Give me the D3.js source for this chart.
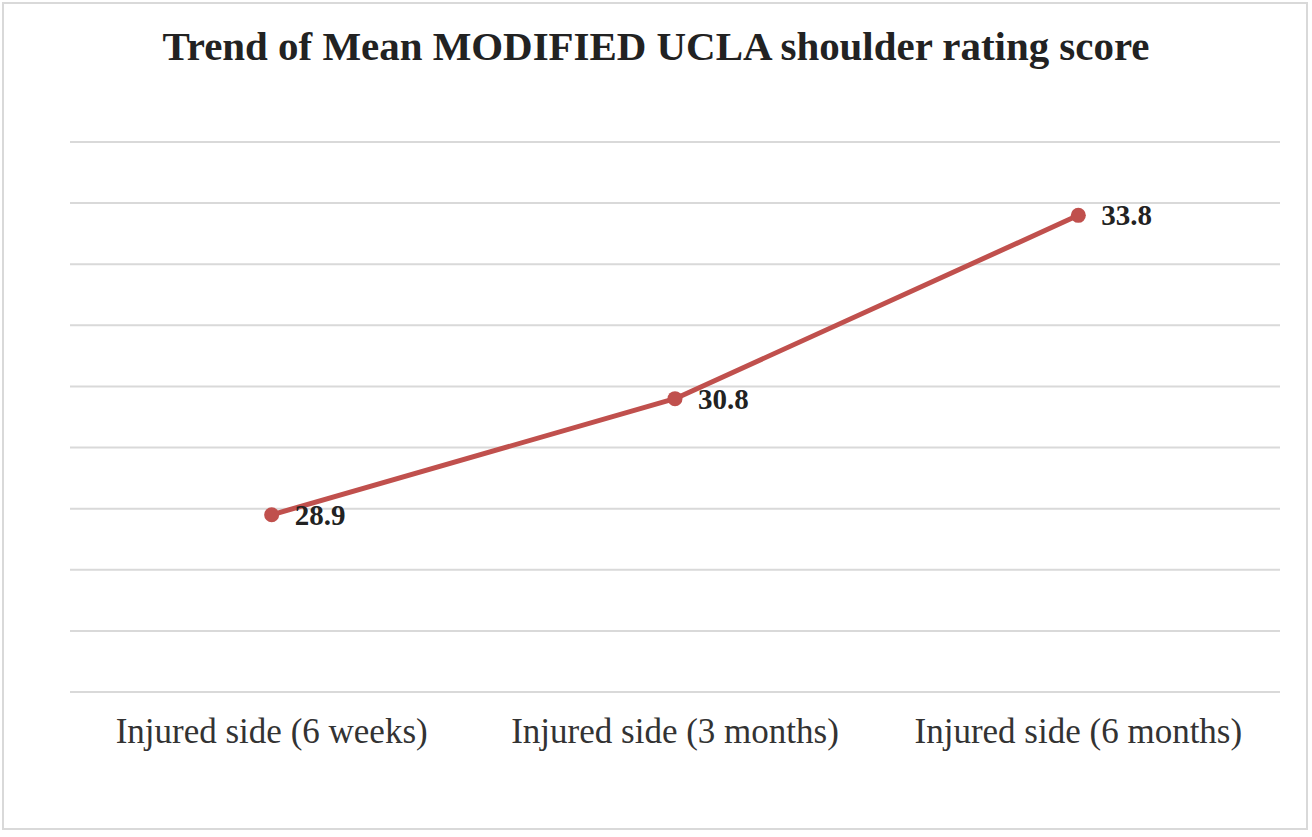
<!DOCTYPE html>
<html>
<head>
<meta charset="utf-8">
<script src="https://cdn.jsdelivr.net/npm/d3@7"></script>
<style>
  body { margin: 0; background: #fff; }
  svg { display: block; }
</style>
</head>
<body>
<script>
const categories = ['Injured side (6 weeks)', 'Injured side (3 months)', 'Injured side (6 months)']
const scores = [28.9, 30.8, 33.8]
const yTicks = [26, 27, 28, 29, 30, 31, 32, 33, 34, 35]
const title = 'Trend of Mean MODIFIED UCLA shoulder rating score'

const width = 1312
const height = 837
const svg = d3.select('body').append('svg')
    .attr('width', width)
    .attr('height', height)

// outer frame
svg.append('rect')
    .attr('x', 3).attr('y', 3)
    .attr('width', 1304).attr('height', 826)
    .attr('fill', '#fff')
    .attr('stroke', '#d9d9d9')
    .attr('stroke-width', 2)

svg.append('text')
    .attr('x', 656)
    .attr('y', 60)
    .attr('text-anchor', 'middle')
    .attr('font-family', 'Liberation Serif, Times New Roman, serif')
    .attr('font-weight', 'bold')
    .attr('font-size', 40)
    .attr('fill', '#222')
    .attr('textLength', 987)
    .attr('lengthAdjust', 'spacingAndGlyphs')
    .text(title)

const x = d3.scaleBand().domain(categories).range([70, 1280])
const y = d3.scaleLinear().domain([26, 35]).range([692, 142])

// gridlines
svg.append('g').selectAll('line').data(yTicks)
    .enter()
    .append('line')
    .attr('x1', 70).attr('x2', 1280)
    .attr('y1', d => y(d)).attr('y2', d => y(d))
    .attr('stroke', '#d9d9d9')
    .attr('stroke-width', 2)

// category labels
const xAxis = d3.axisBottom(x).tickSize(0).tickPadding(0)
const gx = svg.append('g').attr('transform', 'translate(0,692)').call(xAxis)
gx.select('.domain').remove()
gx.selectAll('text')
    .attr('y', 51)
    .attr('dy', 0)
    .attr('font-family', 'Liberation Serif, Times New Roman, serif')
    .attr('font-size', 35)
    .attr('fill', '#333')

const pts = categories.map((c, i) => ({c, v: scores[i]}))
const cx = d => x(d.c) + x.bandwidth() / 2

const line = d3.line().x(cx).y(d => y(d.v))
svg.append('path')
    .datum(pts)
    .attr('d', line)
    .attr('fill', 'none')
    .attr('stroke', '#c0504d')
    .attr('stroke-width', 5)
    .attr('stroke-linejoin', 'round')

svg.append('g').selectAll('circle').data(pts)
    .enter()
    .append('circle')
    .attr('cx', cx)
    .attr('cy', d => y(d.v))
    .attr('r', 7.5)
    .attr('fill', '#c0504d')

svg.append('g').selectAll('text').data(pts)
    .enter()
    .append('text')
    .attr('x', d => cx(d) + 23)
    .attr('y', d => y(d.v) + 10)
    .attr('font-family', 'Liberation Serif, Times New Roman, serif')
    .attr('font-weight', 'bold')
    .attr('font-size', 29)
    .attr('fill', '#222')
    .text(d => d.v.toFixed(1))
</script>
</body>
</html>
